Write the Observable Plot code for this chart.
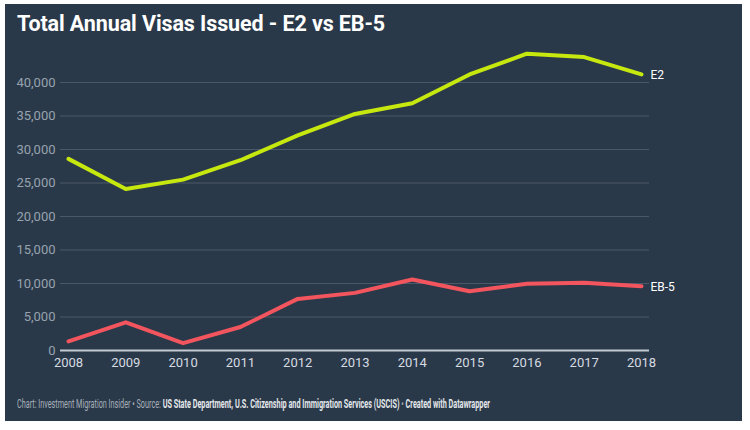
<!DOCTYPE html>
<html>
<head>
<meta charset="utf-8">
<script src="https://cdn.jsdelivr.net/npm/d3@7"></script>
<script src="https://cdn.jsdelivr.net/npm/@observablehq/plot@0.6"></script>
<style>
  html, body { margin: 0; padding: 0; background: #ffffff; }
  body { width: 750px; height: 430px; position: relative; overflow: hidden; font-family: Roboto, "Noto Sans", sans-serif; }
  #panel { position: absolute; left: 5px; top: 4px; width: 737px; height: 417px; background: #2a3949; }
  #title { position: absolute; left: 12px; top: 7px; color: #ffffff; font-weight: 700; font-size: 21.5px; letter-spacing: -0.1px; white-space: nowrap; }
  #chart { position: absolute; left: 0; top: 36px; }
  #footer { position: absolute; left: 12px; top: 393px; color: #a7b0ba; font-size: 12px; white-space: nowrap; transform-origin: left center; transform: scaleX(0.605); }
  #footer b { color: #e4e8ec; font-weight: 700; }
</style>
</head>
<body>
<div id="panel">
  <div id="title">Total Annual Visas Issued - E2 vs EB-5</div>
  <div id="chart"></div>
  <div id="footer">Chart: Investment Migration Insider • Source: <b>US State Department, U.S. Citizenship and Immigration Services (USCIS)</b> • <b>Created with Datawrapper</b></div>
</div>
<script>
// Annual visas issued, by year
const years = [2008, 2009, 2010, 2011, 2012, 2013, 2014, 2015, 2016, 2017, 2018];
const e2Values = [28600, 24100, 25500, 28400, 32100, 35300, 36900, 41200, 44300, 43800, 41200];
const eb5Values = [1350, 4200, 1100, 3500, 7700, 8600, 10600, 8850, 9950, 10100, 9600];
const yTicks = [0, 5000, 10000, 15000, 20000, 25000, 30000, 35000, 40000];
const seriesNames = ["E2", "EB-5"];
const seriesColors = ["#c6e80f", "#f2555d"];

const rows = [];
years.forEach((yr, i) => {
  rows.push({year: yr, value: e2Values[i], series: seriesNames[0]});
  rows.push({year: yr, value: eb5Values[i], series: seriesNames[1]});
});
const lastRows = rows.filter(d => d.year === years[years.length - 1]);

const chart = Plot.plot({
  width: 737,
  height: 345,
  marginLeft: 55,
  marginRight: 93,
  marginTop: 8.5,
  marginBottom: 35,
  style: { background: "transparent", color: "#d6dbe1", fontFamily: "Roboto, sans-serif" },
  x: { type: "linear", domain: [years[0], years[years.length - 1]], insetLeft: 8, insetRight: 8 },
  y: { domain: [0, 45000] },
  color: { domain: seriesNames, range: seriesColors },
  marks: [
    Plot.ruleY(yTicks.filter(d => d > 0), { stroke: "#4a5969", strokeWidth: 1 }),
    Plot.ruleY([0], { stroke: "#c3cad2", strokeWidth: 2 }),
    Plot.axisY({ ticks: yTicks, tickSize: 0, tickPadding: 5, tickFormat: d3.format(","), fill: "#97a2ae", fontSize: 13, label: null }),
    Plot.axisX({ ticks: years, tickSize: 0, tickPadding: 7, tickFormat: d3.format("d"), fill: "#d6dbe1", fontSize: 13, label: null }),
    Plot.line(rows, { x: "year", y: "value", z: "series", stroke: "series", strokeWidth: 4, strokeLinejoin: "round", strokeLinecap: "round" }),
    Plot.text(lastRows, { x: "year", y: "value", text: "series", textAnchor: "start", dx: 9, dy: 1, fill: "#ffffff", fontSize: 12 })
  ]
});
document.getElementById("chart").appendChild(chart);
</script>
</body>
</html>
